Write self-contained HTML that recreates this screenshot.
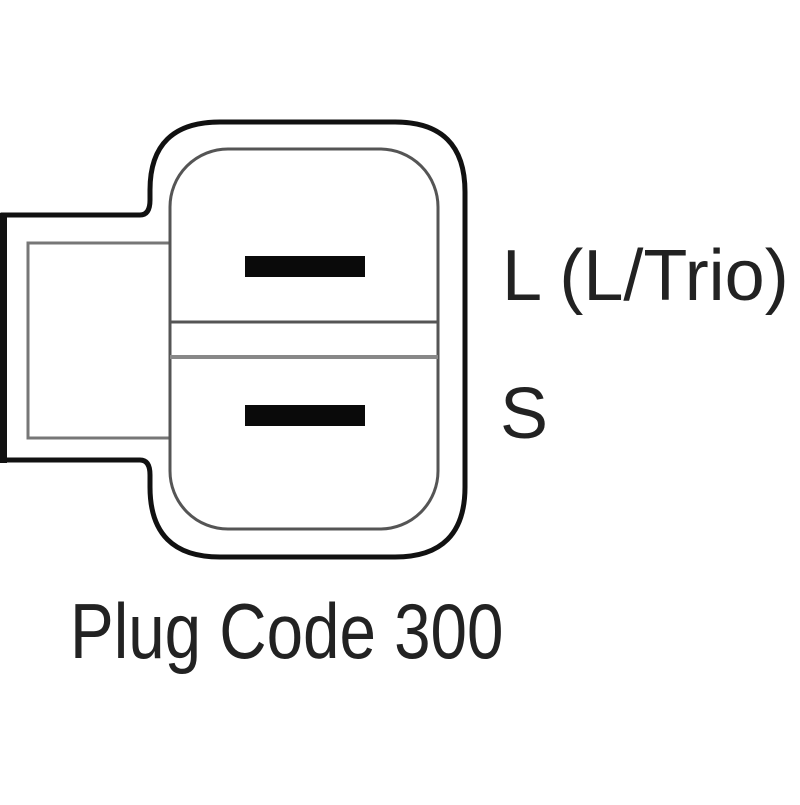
<!DOCTYPE html>
<html><head><style>html,body{margin:0;padding:0;background:#fff}</style></head>
<body>
<svg width="800" height="800" viewBox="0 0 800 800" xmlns="http://www.w3.org/2000/svg">
<rect width="800" height="800" fill="#fff"/>
<!-- outer body outline -->
<path d="M3,215 L140,215 Q150,215 150,200 L150,190 Q150,122 220,122 L395,122 Q465,122 465,192 L465,487 Q465,557 395,557 L220,557 Q150,557 150,487 L150,475 Q150,460 140,460 L3,460 Z" fill="none" stroke="#111" stroke-width="5"/>
<rect x="0" y="213" width="7" height="250" fill="#111"/>
<!-- inner tab -->
<path d="M170,243 L28,243 L28,438 L170,438" fill="none" stroke="#777" stroke-width="3"/>
<!-- inner rounded rect -->
<rect x="170" y="149" width="268" height="380" rx="58" ry="58" fill="none" stroke="#555" stroke-width="3"/>
<!-- divider lines -->
<line x1="170" y1="322" x2="438" y2="322" stroke="#555" stroke-width="3"/>
<line x1="170" y1="357" x2="438" y2="357" stroke="#888" stroke-width="4"/>
<!-- pins -->
<rect x="245" y="256" width="120" height="21" fill="#0a0a0a"/>
<rect x="245" y="405" width="120" height="21" fill="#0a0a0a"/>
<!-- labels -->
<text x="502" y="300" font-family="Liberation Sans, sans-serif" font-size="72" fill="#222">L (L/Trio)</text>
<text x="500" y="438" font-family="Liberation Sans, sans-serif" font-size="72" fill="#222">S</text>
<text x="0" y="658" font-family="Liberation Sans, sans-serif" font-size="78" fill="#222" transform="translate(70,0) scale(0.84,1)">Plug Code 300</text>
</svg>
</body></html>
